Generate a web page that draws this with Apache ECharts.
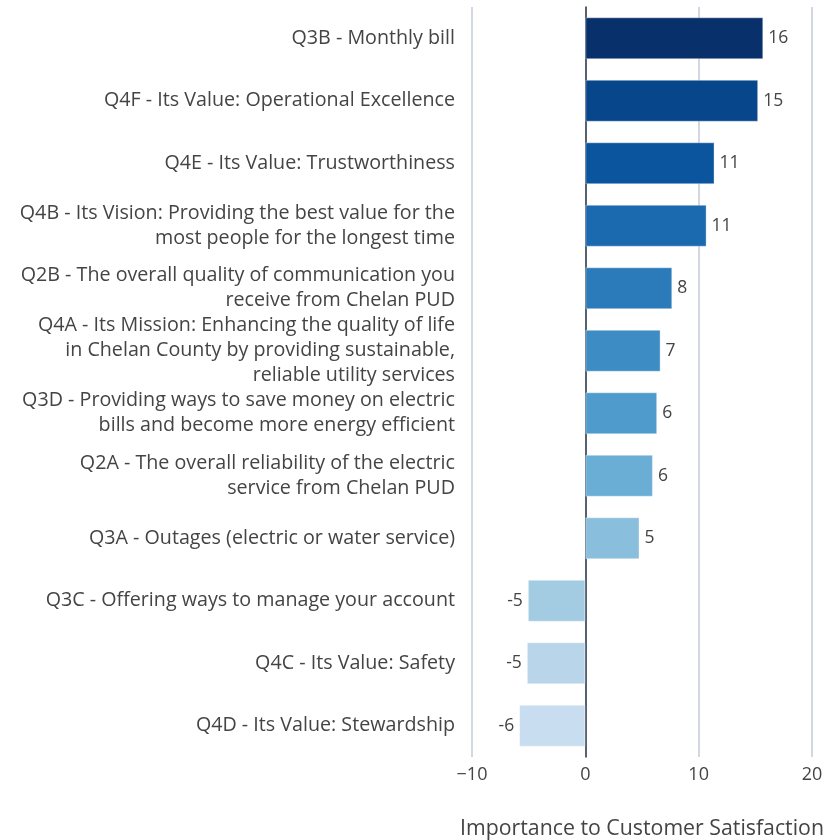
<!DOCTYPE html>
<html>
<head>
<meta http-equiv="Content-Type" content="text/html; charset=UTF-8">
<title>Importance to Customer Satisfaction</title>
<script src="https://cdn.jsdelivr.net/npm/echarts@6/dist/echarts.min.js"></script>
<style>
	html, body { margin: 0; padding: 0; background: #fff; }
	#chart { width: 834px; height: 840px; }
</style>
</head>
<body>
	<div id="chart"></div>
	<script type="text/javascript">
		// categories, top to bottom
		var questions = [
			'Q3B - Monthly bill',
			'Q4F - Its Value: Operational Excellence',
			'Q4E - Its Value: Trustworthiness',
			'Q4B - Its Vision: Providing the best value for the\nmost people for the longest time',
			'Q2B - The overall quality of communication you\nreceive from Chelan PUD',
			'Q4A - Its Mission: Enhancing the quality of life\nin Chelan County by providing sustainable,\nreliable utility services',
			'Q3D - Providing ways to save money on electric\nbills and become more energy efficient',
			'Q2A - The overall reliability of the electric\nservice from Chelan PUD',
			'Q3A - Outages (electric or water service)',
			'Q3C - Offering ways to manage your account',
			'Q4C - Its Value: Safety',
			'Q4D - Its Value: Stewardship'
		];
		var importance = [15.7, 15.25, 11.4, 10.7, 7.67, 6.64, 6.34, 5.96, 4.78, -5.07, -5.16, -5.84];
		var barColors = ['#08306b', '#08468b', '#0b559f', '#1b69af', '#2b7bba', '#3d8dc4',
				'#4f9bcb', '#6aaed6', '#89bedc', '#a3cbe2', '#b8d5ea', '#c9ddf0'];
		var xTicks = [-10, 0, 10, 20];

		var barData = [];
		for (var i = 0; i < importance.length; i++) {
			barData.push({
				value : importance[i],
				itemStyle : {
					color : barColors[i]
				},
				label : {
					position : importance[i] < 0 ? 'left' : 'right'
				}
			});
		}

		var chart = echarts.init(document.getElementById('chart'));
		chart.setOption({
			textStyle : {
				fontFamily : 'Open Sans'
			},
			grid : {
				left : 472,
				right : 22,
				top : 7,
				bottom : 83,
				outerBoundsMode : 'none'
			},
			xAxis : {
				type : 'value',
				min : xTicks[0],
				max : xTicks[xTicks.length - 1],
				interval : 10,
				name : 'Importance to Customer Satisfaction',
				nameLocation : 'middle',
				nameGap : 61,
				nameTextStyle : {
					fontSize : 21.3,
					color : '#444'
				},
				axisLine : {
					show : false
				},
				axisTick : {
					show : false
				},
				axisLabel : {
					fontSize : 18,
					color : '#444',
					margin : 9,
					formatter : function(v) {
						return v < 0 ? '\u2212' + Math.abs(v) : String(v);
					}
				},
				splitLine : {
					show : true,
					lineStyle : {
						color : '#d3d7e1',
						width : 2
					}
				}
			},
			yAxis : {
				type : 'category',
				inverse : true,
				data : questions,
				axisLine : {
					onZero : true,
					lineStyle : {
						color : '#2e3a48',
						width : 1.5
					}
				},
				axisTick : {
					show : false
				},
				axisLabel : {
					fontSize : 19.7,
					color : '#444',
					lineHeight : 25,
					margin : 17,
					align : 'right'
				}
			},
			series : [ {
				type : 'bar',
				data : barData,
				barCategoryGap : '33%',
				itemStyle : {
					borderColor : 'rgba(255,255,255,0.35)',
					borderWidth : 1
				},
				label : {
					show : true,
					fontSize : 17.5,
					color : '#444',
					distance : 5,
					formatter : function(p) {
						return Math.round(p.value);
					}
				}
			} ]
		});
	</script>
</body>
</html>
